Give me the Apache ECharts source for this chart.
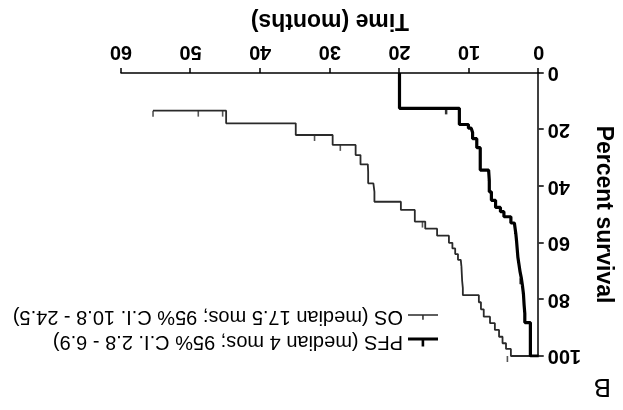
<!DOCTYPE html>
<html>
<head>
<meta charset="utf-8">
<script src="https://cdn.jsdelivr.net/npm/echarts@6/dist/echarts.min.js"></script>
<style>
  html, body { margin: 0; padding: 0; background: #fff; }
  /* The reference figure is printed upside down, so the whole chart is turned 180 degrees. */
  #chart { width: 623px; height: 410px; transform: rotate(180deg); transform-origin: 50% 50%; }
</style>
</head>
<body>
<div id="chart"></div>
<script>
// ---- data (time in months, survival in %) ----
const pfsTime = [0, 1.2, 2.0, 2.1, 2.2, 2.35, 2.5, 2.7, 2.85, 3.0, 3.1, 3.2, 3.3, 3.5, 4.0, 5.0, 5.5, 6.2, 6.8, 7.1, 7.2, 8.4, 8.9, 9.5, 9.7, 10.1, 11.4, 20.0];
const pfsSurv = [100, 88.2, 85, 82, 78, 75, 72.5, 70, 67.5, 65, 62, 59, 56.6, 53, 50.8, 49, 47.5, 45, 42, 38, 34.3, 26.4, 23.2, 21, 19.5, 18.2, 12.5, 0];
const pfsCensTime = [2.6, 13.3];
const pfsCensSurv = [72.5, 12.5];

const osTime = [0, 4.0, 4.7, 5.2, 5.7, 6.3, 7.0, 7.9, 8.3, 8.6, 10.9, 11.0, 11.05, 11.1, 11.2, 11.6, 12.0, 12.4, 12.9, 14.6, 16.3, 17.8, 19.8, 23.6, 23.75, 24.5, 24.55, 25.6, 26.3, 29.6, 34.9, 44.9, 55.4];
const osSurv = [100, 97.5, 95.5, 93.2, 90.8, 88.4, 86.1, 83.5, 81.0, 78.5, 76, 73.5, 71, 68.5, 66, 64, 62, 60, 57.5, 55, 52.5, 48.4, 45.5, 42, 39, 35, 32.3, 29, 25.4, 21.9, 17.8, 13.3, 13.3];
const osCensTime = [4.5, 16.7, 28.5, 32.2, 45.4, 48.9, 55.4];
const osCensSurv = [100, 52.5, 25.4, 21.9, 13.3, 13.3, 13.3];

const xTicks = { min: 0, max: 60, interval: 10 };
const yTicks = { min: 0, max: 100, interval: 20 };

const pfsName = 'PFS (median 4 mos; 95% C.I. 2.8 - 6.9)';
const osName = 'OS (median 17.5 mos; 95% C.I. 10.8 - 24.5)';
const xTitle = 'Time (months)';
const yTitle = 'Percent survival';
const panelLabel = 'B';

// ---- build ----
const zip = (a, b) => a.map((v, i) => [v, b[i]]);
const FONT = 'Liberation Sans, Arial, Helvetica, sans-serif';

const chart = echarts.init(document.getElementById('chart'), null, { renderer: 'canvas' });
chart.setOption({
  animation: false,
  backgroundColor: '#fff',
  grid: { left: 78, right: 121, top: 54, bottom: 73 },
  xAxis: {
    type: 'value', min: xTicks.min, max: xTicks.max, interval: xTicks.interval,
    name: xTitle, nameLocation: 'middle', nameGap: 41,
    nameTextStyle: { fontFamily: FONT, fontSize: 23, fontWeight: 'bold', color: '#000' },
    axisLine: { show: true, lineStyle: { color: '#000', width: 1.5 } },
    axisTick: { show: true, length: 5, lineStyle: { color: '#000', width: 1.5 } },
    axisLabel: { margin: 11, fontFamily: FONT, fontSize: 20, fontWeight: 'bold', color: '#000' },
    splitLine: { show: false }
  },
  yAxis: {
    type: 'value', min: yTicks.min, max: yTicks.max, interval: yTicks.interval,
    name: yTitle, nameLocation: 'middle', nameGap: 46,
    nameTextStyle: { fontFamily: FONT, fontSize: 23, fontWeight: 'bold', color: '#000' },
    axisLine: { show: true, lineStyle: { color: '#000', width: 1.5 } },
    axisTick: { show: true, length: 5, lineStyle: { color: '#000', width: 1.5 } },
    axisLabel: { margin: 9, fontFamily: FONT, fontSize: 20, fontWeight: 'bold', color: '#000' },
    splitLine: { show: false }
  },
  legend: {
    orient: 'vertical', left: 180, top: 53, itemWidth: 30, itemHeight: 9, itemGap: 5,
    textStyle: { fontFamily: FONT, fontSize: 20, color: '#000' },
    selectedMode: false,
    data: [
      { name: pfsName, icon: 'path://M0,6h30v3h-30z M13.8,0h2.6v6h-2.6z' },
      { name: osName, icon: 'path://M0,7h30v1.6h-30z M14.3,3h1.5v4h-1.5z' }
    ]
  },
  graphic: [{
    type: 'text', left: 12, top: 11,
    style: { text: panelLabel, fontFamily: FONT, fontSize: 26, fill: '#000' }
  }],
  series: [
    {
      name: osName, type: 'line', step: 'end', data: zip(osTime, osSurv),
      showSymbol: false, symbol: 'none',
      lineStyle: { color: '#2a2a2a', width: 1.8 }, itemStyle: { color: '#2a2a2a' }, z: 2
    },
    {
      name: pfsName, type: 'line', step: 'end', data: zip(pfsTime, pfsSurv),
      showSymbol: false, symbol: 'none',
      lineStyle: { color: '#000', width: 3.2 }, itemStyle: { color: '#000' }, z: 3
    },
    {
      name: osName, type: 'scatter', data: zip(osCensTime, osCensSurv),
      symbol: 'rect', symbolSize: [1.6, 6], symbolOffset: [0, -3],
      itemStyle: { color: '#2a2a2a' }, z: 4
    },
    {
      name: pfsName, type: 'scatter', data: zip(pfsCensTime, pfsCensSurv),
      symbol: 'rect', symbolSize: [2.5, 6], symbolOffset: [0, -3],
      itemStyle: { color: '#000' }, z: 4
    }
  ]
});
</script>
</body>
</html>
